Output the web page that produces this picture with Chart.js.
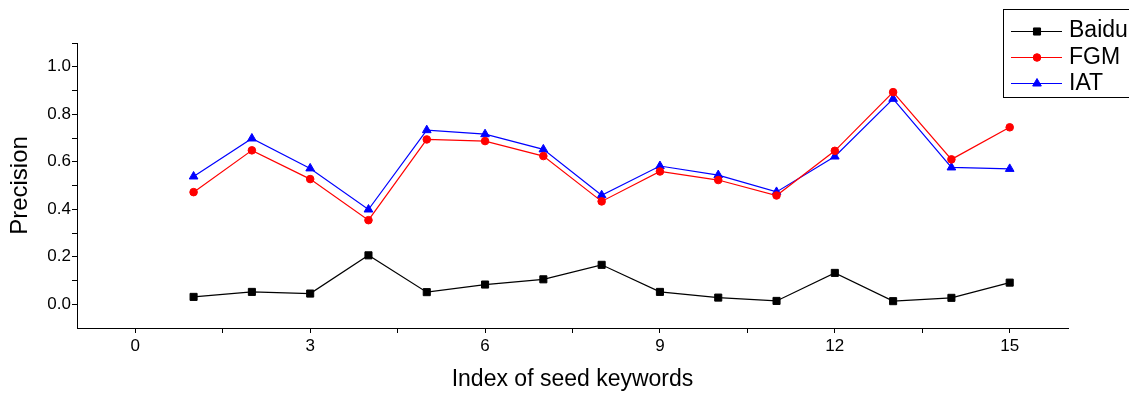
<!DOCTYPE html>
<html>
<head>
<meta charset="utf-8">
<script src="https://cdn.jsdelivr.net/npm/chart.js@4/dist/chart.umd.min.js"></script>
<style>
  html, body { margin: 0; padding: 0; background: #fff; }
  #wrap { width: 1129px; height: 393px; }
</style>
</head>
<body>
<div id="wrap"><canvas id="myChart" width="1129" height="393"></canvas></div>
<script>
// seed keyword index and precision per method
const keywords = [1, 2, 3, 4, 5, 6, 7, 8, 9, 10, 11, 12, 13, 14, 15];
const baidu = [0.031, 0.052, 0.045, 0.206, 0.051, 0.083, 0.105, 0.166, 0.052, 0.028, 0.014, 0.132, 0.013, 0.027, 0.091];
const fgm   = [0.472, 0.648, 0.527, 0.354, 0.694, 0.687, 0.624, 0.433, 0.559, 0.523, 0.458, 0.646, 0.893, 0.610, 0.745];
const iat   = [0.538, 0.698, 0.572, 0.399, 0.733, 0.716, 0.652, 0.459, 0.582, 0.544, 0.473, 0.622, 0.865, 0.576, 0.570];
const seriesNames = ['Baidu', 'FGM', 'IAT'];
const yLabels = ['0.0', '0.2', '0.4', '0.6', '0.8', '1.0'];
const xLabels = [0, 3, 6, 9, 12, 15];

const FONT = "Arial, 'Liberation Sans', sans-serif";

function pts(vals) {
  return keywords.map((k, i) => ({ x: k, y: vals[i] }));
}

// boxed legend at the top right, like the original figure
const boxLegend = {
  id: 'boxLegend',
  afterDraw(chart) {
    const ctx = chart.ctx;
    const left = chart.width - 126;
    ctx.save();
    ctx.strokeStyle = '#000';
    ctx.lineWidth = 1;
    ctx.strokeRect(left + 0.5, 9.5, 140, 88);
    chart.data.datasets.forEach((ds, i) => {
      const y = 31 + i * 26;
      ctx.strokeStyle = ds.borderColor;
      ctx.lineWidth = 1;
      ctx.beginPath();
      ctx.moveTo(left + 8, y + 0.5);
      ctx.lineTo(left + 59, y + 0.5);
      ctx.stroke();
      ctx.fillStyle = ds.pointBackgroundColor;
      ctx.strokeStyle = ds.borderColor;
      Chart.helpers.drawPoint(ctx, { pointStyle: ds.pointStyle, radius: ds.pointRadius, borderWidth: 1 }, left + 34, y + 0.5);
      ctx.fillStyle = '#000';
      ctx.font = '23px ' + FONT;
      ctx.textBaseline = 'alphabetic';
      ctx.fillText(ds.label, left + 66, y + 6 + (i > 0 ? 1 : 0));
    });
    ctx.restore();
  }
};

const ctx = document.getElementById('myChart');
const myChart = new Chart(ctx, {
  type: 'line',
  data: {
    datasets: [{
      label: seriesNames[0],
      data: pts(baidu),
      borderColor: '#000000',
      backgroundColor: '#000000',
      pointBackgroundColor: '#000000',
      pointStyle: 'rect',
      pointRadius: 5,
      borderWidth: 1.2,
      pointBorderWidth: 1
    }, {
      label: seriesNames[1],
      data: pts(fgm),
      borderColor: '#ff0000',
      backgroundColor: '#ff0000',
      pointBackgroundColor: '#ff0000',
      pointStyle: 'circle',
      pointRadius: 3.8,
      borderWidth: 1.2,
      pointBorderWidth: 1
    }, {
      label: seriesNames[2],
      data: pts(iat),
      borderColor: '#0000ff',
      backgroundColor: '#0000ff',
      pointBackgroundColor: '#0000ff',
      pointStyle: 'triangle',
      pointRadius: 5,
      borderWidth: 1.2,
      pointBorderWidth: 1
    }]
  },
  options: {
    responsive: false,
    animation: false,
    layout: { padding: { top: 43, right: 61, left: 0, bottom: 0 } },
    plugins: {
      legend: { display: false },
      tooltip: { enabled: false }
    },
    scales: {
      x: {
        type: 'linear',
        min: -1,
        max: 16,
        afterFit: (s) => { s.height = 65; },
        border: { color: '#000', width: 1 },
        grid: { drawOnChartArea: false, tickLength: 5, tickColor: '#000' },
        ticks: {
          stepSize: 1.5,
          includeBounds: false,
          autoSkip: false,
          maxRotation: 0,
          padding: 3,
          color: '#000',
          font: { family: FONT, size: 17 },
          callback: (v) => xLabels.includes(v) ? String(v) : ''
        },
        title: {
          display: true,
          text: 'Index of seed keywords',
          color: '#000',
          font: { family: FONT, size: 23 },
          padding: { top: 1, bottom: 0 }
        }
      },
      y: {
        min: -0.1,
        max: 1.1,
        afterFit: (s) => { s.width = 77; },
        border: { color: '#000', width: 1 },
        grid: {
          drawOnChartArea: false,
          tickLength: 5,
          tickColor: (c) => c.index === 0 ? 'rgba(0,0,0,0)' : '#000'
        },
        ticks: {
          stepSize: 0.1,
          autoSkip: false,
          padding: 1,
          color: '#000',
          font: { family: FONT, size: 17 },
          callback: (v) => {
            const s = v.toFixed(1);
            return yLabels.includes(s) ? s : '';
          }
        },
        title: {
          display: true,
          text: 'Precision',
          color: '#000',
          font: { family: FONT, size: 24 },
          padding: { top: 6, bottom: 0 }
        }
      }
    }
  },
  plugins: [boxLegend]
});
</script>
</body>
</html>
